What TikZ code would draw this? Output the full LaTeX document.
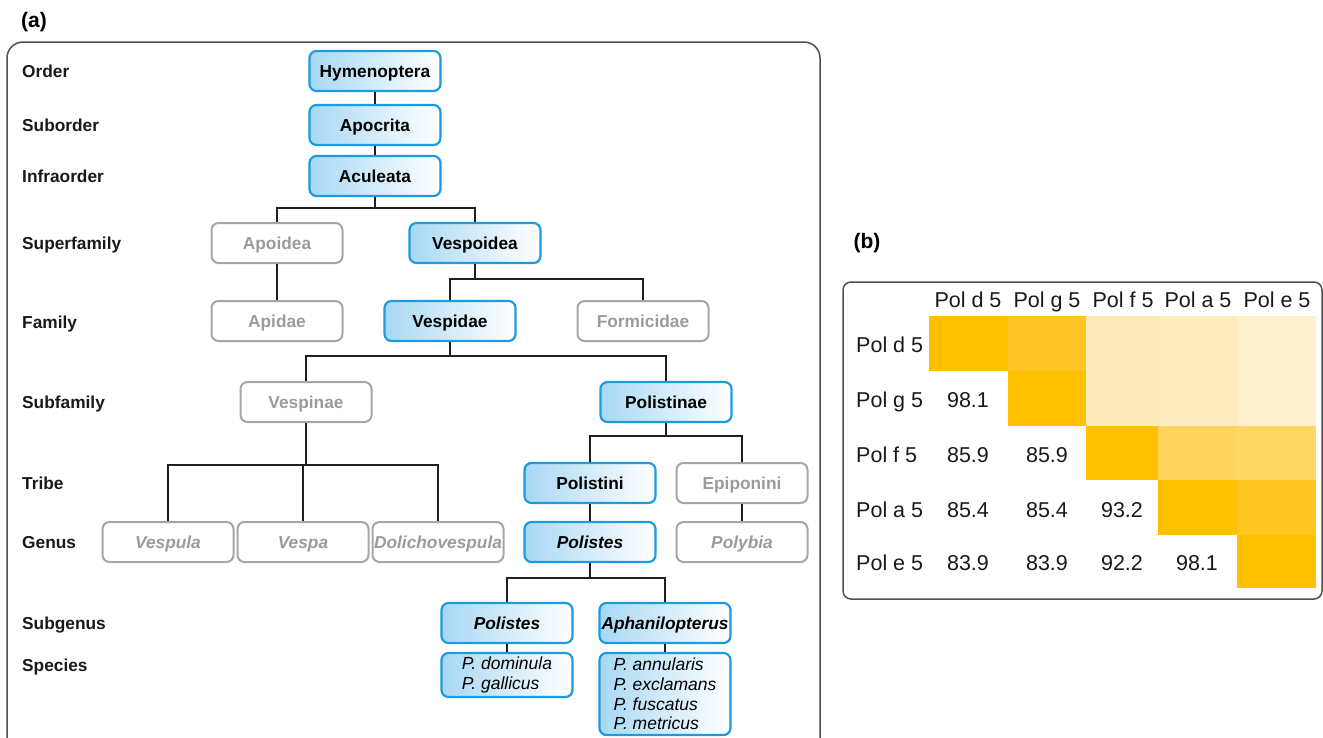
\documentclass[tikz,border=0pt]{standalone}
\usepackage{fontspec}
\setmainfont{Liberation Sans}
\definecolor{boxblue}{HTML}{1D9BDF}
\definecolor{shadeblue}{HTML}{A8D8F4}
\definecolor{boxgrey}{HTML}{A6A6A6}
\definecolor{txtgrey}{HTML}{9B9B9B}
\definecolor{panelgrey}{HTML}{505050}
\definecolor{hA}{HTML}{FFC000}
\definecolor{hB}{HTML}{FFC625}
\definecolor{hC}{HTML}{FEEBBB}
\definecolor{hD}{HTML}{FEECBF}
\definecolor{hE}{HTML}{FFF0CD}
\definecolor{hF}{HTML}{FFD45C}
\definecolor{hG}{HTML}{FFD763}
\definecolor{hH}{HTML}{FFC522}
\begin{document}
\begin{tikzpicture}[x=1pt,y=-1pt,
  treefont/.style={font=\bfseries\fontsize{17.3}{20}\selectfont},
  bluebox/.style={draw=boxblue, line width=2.2pt, rounded corners=7pt,
    left color=shadeblue, right color=white, minimum width=131pt,
    minimum height=40pt, inner sep=0pt, treefont, text=black,
    text height=12.4pt, text depth=0pt},
  greybox/.style={draw=boxgrey, line width=2pt, rounded corners=7pt,
    fill=white, minimum width=131pt, minimum height=40pt, inner sep=0pt,
    treefont, text=txtgrey, text height=12.4pt, text depth=0pt},
  specbox/.style={draw=boxblue, line width=2.2pt, rounded corners=7pt,
    left color=shadeblue, right color=white, minimum width=131pt,
    inner sep=0pt, align=left,
    font=\itshape\fontsize{17.5}{19.8}\selectfont, text=black},
  lvl/.style={anchor=west, treefont, text=black!90, inner sep=0pt,
    text height=12.4pt, text depth=0pt},
  conn/.style={draw=black!88, line width=2.2pt},
  panelframe/.style={draw=panelgrey, line width=1.5pt},
  hm/.style={font=\fontsize{21.5}{24}\selectfont, inner sep=0pt, text=black!90,
    text height=15.4pt, text depth=0pt},
  tag/.style={font=\bfseries\fontsize{21}{24}\selectfont, inner sep=0pt}
]
\useasboundingbox (0,0) rectangle (1323,737);

% panel labels
\node[tag] (taga) at (34,22) {(a)};
\node[tag] (tagb) at (867,243) {(b)};

% panel (a) frame
\draw[panelframe, rounded corners=16pt] (7,770) -- (7,42) -- (820,42) -- (820,770);

% level labels
\node[lvl] (lOrder) at (22,71) {Order};
\node[lvl] (lSuborder) at (22,125) {Suborder};
\node[lvl] (lInfra) at (22,176) {Infraorder};
\node[lvl] (lSuper) at (22,243) {Superfamily};
\node[lvl] (lFamily) at (22,322) {Family};
\node[lvl] (lSubfam) at (22,402) {Subfamily};
\node[lvl] (lTribe) at (22,483) {Tribe};
\node[lvl] (lGenus) at (22,542) {Genus};
\node[lvl] (lSubgen) at (22,623) {Subgenus};
\node[lvl] (lSpecies) at (22,665) {Species};

% tree nodes
\node[bluebox] (hym) at (375,71) {Hymenoptera};
\node[bluebox] (apo) at (375,125) {Apocrita};
\node[bluebox] (acu) at (375,176) {Aculeata};
\node[greybox] (apoi) at (277,243) {Apoidea};
\node[bluebox] (vesp) at (475,243) {Vespoidea};
\node[greybox] (apid) at (277,321) {Apidae};
\node[bluebox] (vespid) at (450,321) {Vespidae};
\node[greybox] (formi) at (643,321) {Formicidae};
\node[greybox] (vespin) at (306,402) {Vespinae};
\node[bluebox] (polin) at (666,402) {Polistinae};
\node[bluebox] (polini) at (590,483) {Polistini};
\node[greybox] (epip) at (742,483) {Epiponini};
\node[greybox] (vespula) at (168,542) {\itshape Vespula};
\node[greybox] (vespa) at (303,542) {\itshape Vespa};
\node[greybox] (dolicho) at (438,542) {\itshape Dolichovespula};
\node[bluebox] (polistes) at (590,542) {\itshape Polistes};
\node[greybox] (polybia) at (742,542) {\itshape Polybia};
\node[bluebox] (subpol) at (507,623) {\itshape Polistes};
\node[bluebox] (aphan) at (665,623) {\itshape Aphanilopterus};
\node[specbox, minimum height=44pt] (sp1) at (507,675) {P. dominula\\P. gallicus};
\node[specbox, minimum height=82pt] (sp2) at (665,694) {P. annularis\\P. exclamans\\P. fuscatus\\P. metricus};

% junction coordinates
\coordinate (j1) at (375,208);
\coordinate (j2) at (450,279);
\coordinate (j3) at (450,356);
\coordinate (j4) at (306,465);
\coordinate (j5) at (666,436);
\coordinate (j6) at (590,578);

% connectors
\draw[conn] (hym) -- (apo);
\draw[conn] (apo) -- (acu);
\draw[conn] (acu.south) -- (j1);
\draw[conn] (apoi.north) -- (apoi.north |- j1) -- (vesp.north |- j1) -- (vesp.north);
\draw[conn] (apoi) -- (apid);
\draw[conn] (vesp.south) -- (vesp.south |- j2);
\draw[conn] (vespid.north) -- (vespid.north |- j2) -- (formi.north |- j2) -- (formi.north);
\draw[conn] (vespid.south) -- (j3);
\draw[conn] (vespin.north) -- (vespin.north |- j3) -- (polin.north |- j3) -- (polin.north);
\draw[conn] (vespin.south) -- (j4);
\draw[conn] (vespula.north) -- (vespula.north |- j4) -- (dolicho.north |- j4) -- (dolicho.north);
\draw[conn] (vespa.north) -- (vespa.north |- j4);
\draw[conn] (polin.south) -- (j5);
\draw[conn] (polini.north) -- (polini.north |- j5) -- (epip.north |- j5) -- (epip.north);
\draw[conn] (polini) -- (polistes);
\draw[conn] (epip) -- (polybia);
\draw[conn] (polistes.south) -- (j6);
\draw[conn] (subpol.north) -- (subpol.north |- j6) -- (aphan.north |- j6) -- (aphan.north);
\draw[conn] (subpol) -- (sp1);
\draw[conn] (aphan.south) -- (aphan.south |- sp2.north);

% panel (b) frame
\draw[panelframe, rounded corners=8pt] (843,282) rectangle (1322,599);

% heatmap cells
\fill[hA] (929,316) rectangle (1008,371);
\fill[hB] (1008,316) rectangle (1086,371);
\fill[hC] (1086,316) rectangle (1158,371);
\fill[hD] (1158,316) rectangle (1237,371);
\fill[hE] (1237,316) rectangle (1316,371);
\fill[hA] (1008,371) rectangle (1086,426);
\fill[hC] (1086,371) rectangle (1158,426);
\fill[hD] (1158,371) rectangle (1237,426);
\fill[hE] (1237,371) rectangle (1316,426);
\fill[hA] (1086,426) rectangle (1158,480);
\fill[hF] (1158,426) rectangle (1237,480);
\fill[hG] (1237,426) rectangle (1316,480);
\fill[hA] (1158,480) rectangle (1237,535);
\fill[hH] (1237,480) rectangle (1316,535);
\fill[hA] (1237,535) rectangle (1316,588);

% heatmap headers
\node[hm] (c1) at (968,300) {Pol d 5};
\node[hm] (c2) at (1047,300) {Pol g 5};
\node[hm] (c3) at (1123,300) {Pol f 5};
\node[hm] (c4) at (1198,300) {Pol a 5};
\node[hm] (c5) at (1277,300) {Pol e 5};
\node[hm, anchor=west] (r1) at (856,345) {Pol d 5};
\node[hm, anchor=west] (r2) at (856,399.5) {Pol g 5};
\node[hm, anchor=west] (r3) at (856,454.5) {Pol f 5};
\node[hm, anchor=west] (r4) at (856,509.5) {Pol a 5};
\node[hm, anchor=west] (r5) at (856,562.5) {Pol e 5};

% heatmap values
\node[hm] (v21) at (968,399.5) {98.1};
\node[hm] (v31) at (968,454.5) {85.9};
\node[hm] (v32) at (1047,454.5) {85.9};
\node[hm] (v41) at (968,509.5) {85.4};
\node[hm] (v42) at (1047,509.5) {85.4};
\node[hm] (v43) at (1122,509.5) {93.2};
\node[hm] (v51) at (968,562.5) {83.9};
\node[hm] (v52) at (1047,562.5) {83.9};
\node[hm] (v53) at (1122,562.5) {92.2};
\node[hm] (v54) at (1197,562.5) {98.1};
\end{tikzpicture}
\end{document}
